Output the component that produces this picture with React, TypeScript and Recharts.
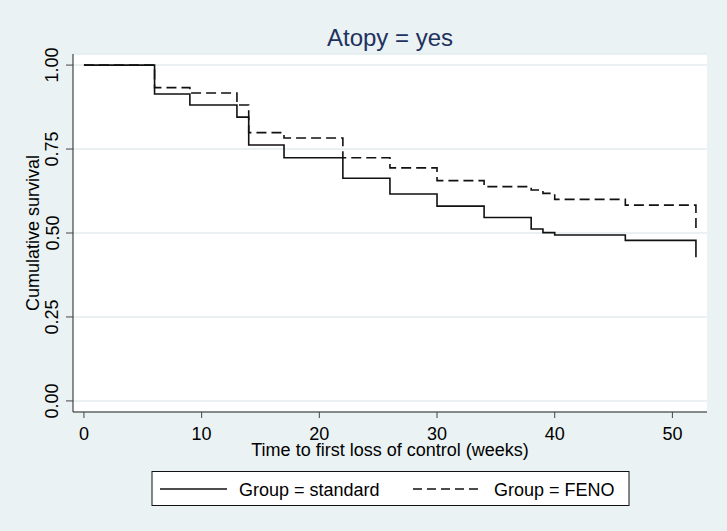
import React from "react";
import { LineChart, Line, XAxis, YAxis, CartesianGrid } from "recharts";

// Kaplan-Meier estimates
const times = [0, 6, 9, 13, 14, 17, 22, 26, 30, 34, 38, 39, 40, 46, 52];
const standardSurv = [1.0, 0.914, 0.881, 0.845, 0.762, 0.724, 0.663, 0.616, 0.58, 0.546, 0.512, 0.501, 0.494, 0.478, 0.428];
const fenoSurv = [1.0, 0.933, 0.917, 0.881, 0.799, 0.783, 0.724, 0.694, 0.656, 0.638, 0.628, 0.618, 0.6, 0.583, 0.504];

const xTicks = [0, 10, 20, 30, 40, 50];
const yTicks = [0, 0.25, 0.5, 0.75, 1];

const seriesNames = ["Group = standard", "Group = FENO"];
const chartTitle = "Atopy = yes";
const xTitle = "Time to first loss of control (weeks)";
const yTitle = "Cumulative survival";

const data = times.map((t, i) => ({ t, standard: standardSurv[i], feno: fenoSurv[i] }));

const FONT = "'Liberation Sans', Arial, sans-serif";
const BG = "#EAF2F3";
const W = 727;
const H = 531;

const XTick = (props: any) => {
  const { x, y, payload } = props;
  return (
    <text x={x} y={y} dy={20} textAnchor="middle" fontSize={18} fontFamily={FONT} fill="#000">
      {payload.value}
    </text>
  );
};

const YTick = (props: any) => {
  const { x, y, payload } = props;
  const bx = x - 5.5;
  return (
    <text
      x={bx}
      y={y}
      textAnchor="middle"
      fontSize={18}
      fontFamily={FONT}
      fill="#000"
      transform={`rotate(-90, ${bx}, ${y})`}
    >
      {Number(payload.value).toFixed(2)}
    </text>
  );
};

export default function App() {
  return (
    <div style={{ position: "absolute", left: 0, top: 0, width: W, height: H, background: BG, fontFamily: FONT }}>
      <LineChart
        width={W}
        height={H}
        data={data}
        margin={{ top: 54, right: 20, bottom: 79, left: 0 }}
      >
        <CartesianGrid vertical={false} horizontal={true} stroke="#E3ECEE" strokeWidth={1.5} fill="#ffffff" />
        <XAxis
          type="number"
          dataKey="t"
          domain={[-0.93, 52.94]}
          ticks={xTicks}
          allowDataOverflow
          tickSize={6}
          height={40}
          stroke="#222"
          tickLine={{ stroke: "#444", strokeWidth: 1 }}
          tick={<XTick />}
          interval={0}
          label={(p: any) => {
            const vb = p.viewBox;
            return (
              <text x={vb.x + vb.width / 2} y={vb.y + 44} textAnchor="middle" fontSize={18} fontFamily={FONT} fill="#000">
                {xTitle}
              </text>
            );
          }}
        />
        <YAxis
          type="number"
          domain={[-0.033, 1.033]}
          ticks={yTicks}
          allowDataOverflow
          width={73}
          tickSize={7}
          stroke="#222"
          tickLine={{ stroke: "#444", strokeWidth: 1 }}
          tick={<YTick />}
          interval={0}
          label={(p: any) => {
            const vb = p.viewBox;
            const cx = 38.5;
            const cy = vb.y + vb.height / 2;
            return (
              <text x={cx} y={cy} textAnchor="middle" fontSize={18} fontFamily={FONT} fill="#000" transform={`rotate(-90, ${cx}, ${cy})`}>
                {yTitle}
              </text>
            );
          }}
        />
        <Line
          type="stepAfter"
          dataKey="feno"
          stroke="#111"
          strokeWidth={1.6}
          strokeDasharray="10 5"
          dot={false}
          activeDot={false}
          isAnimationActive={false}
        />
        <Line
          type="stepAfter"
          dataKey="standard"
          stroke="#111"
          strokeWidth={1.6}
          dot={false}
          activeDot={false}
          isAnimationActive={false}
        />
      </LineChart>
      <svg width={W} height={H} style={{ position: "absolute", left: 0, top: 0, pointerEvents: "none" }}>
        <text x={390} y={46} textAnchor="middle" fontSize={24} fontFamily={FONT} fill="#1E3160">
          {chartTitle}
        </text>
        <rect x={152} y={471.5} width={477} height={34} fill="#fff" stroke="#111" strokeWidth={1} />
        <line x1={160} y1={489} x2={227} y2={489} stroke="#111" strokeWidth={1.6} />
        <text x={239} y={495.5} fontSize={18} fontFamily={FONT} fill="#000">
          {seriesNames[0]}
        </text>
        <line x1={413} y1={489} x2={480} y2={489} stroke="#111" strokeWidth={1.6} strokeDasharray="9 5" />
        <text x={494} y={495.5} fontSize={18} fontFamily={FONT} fill="#000">
          {seriesNames[1]}
        </text>
      </svg>
    </div>
  );
}
